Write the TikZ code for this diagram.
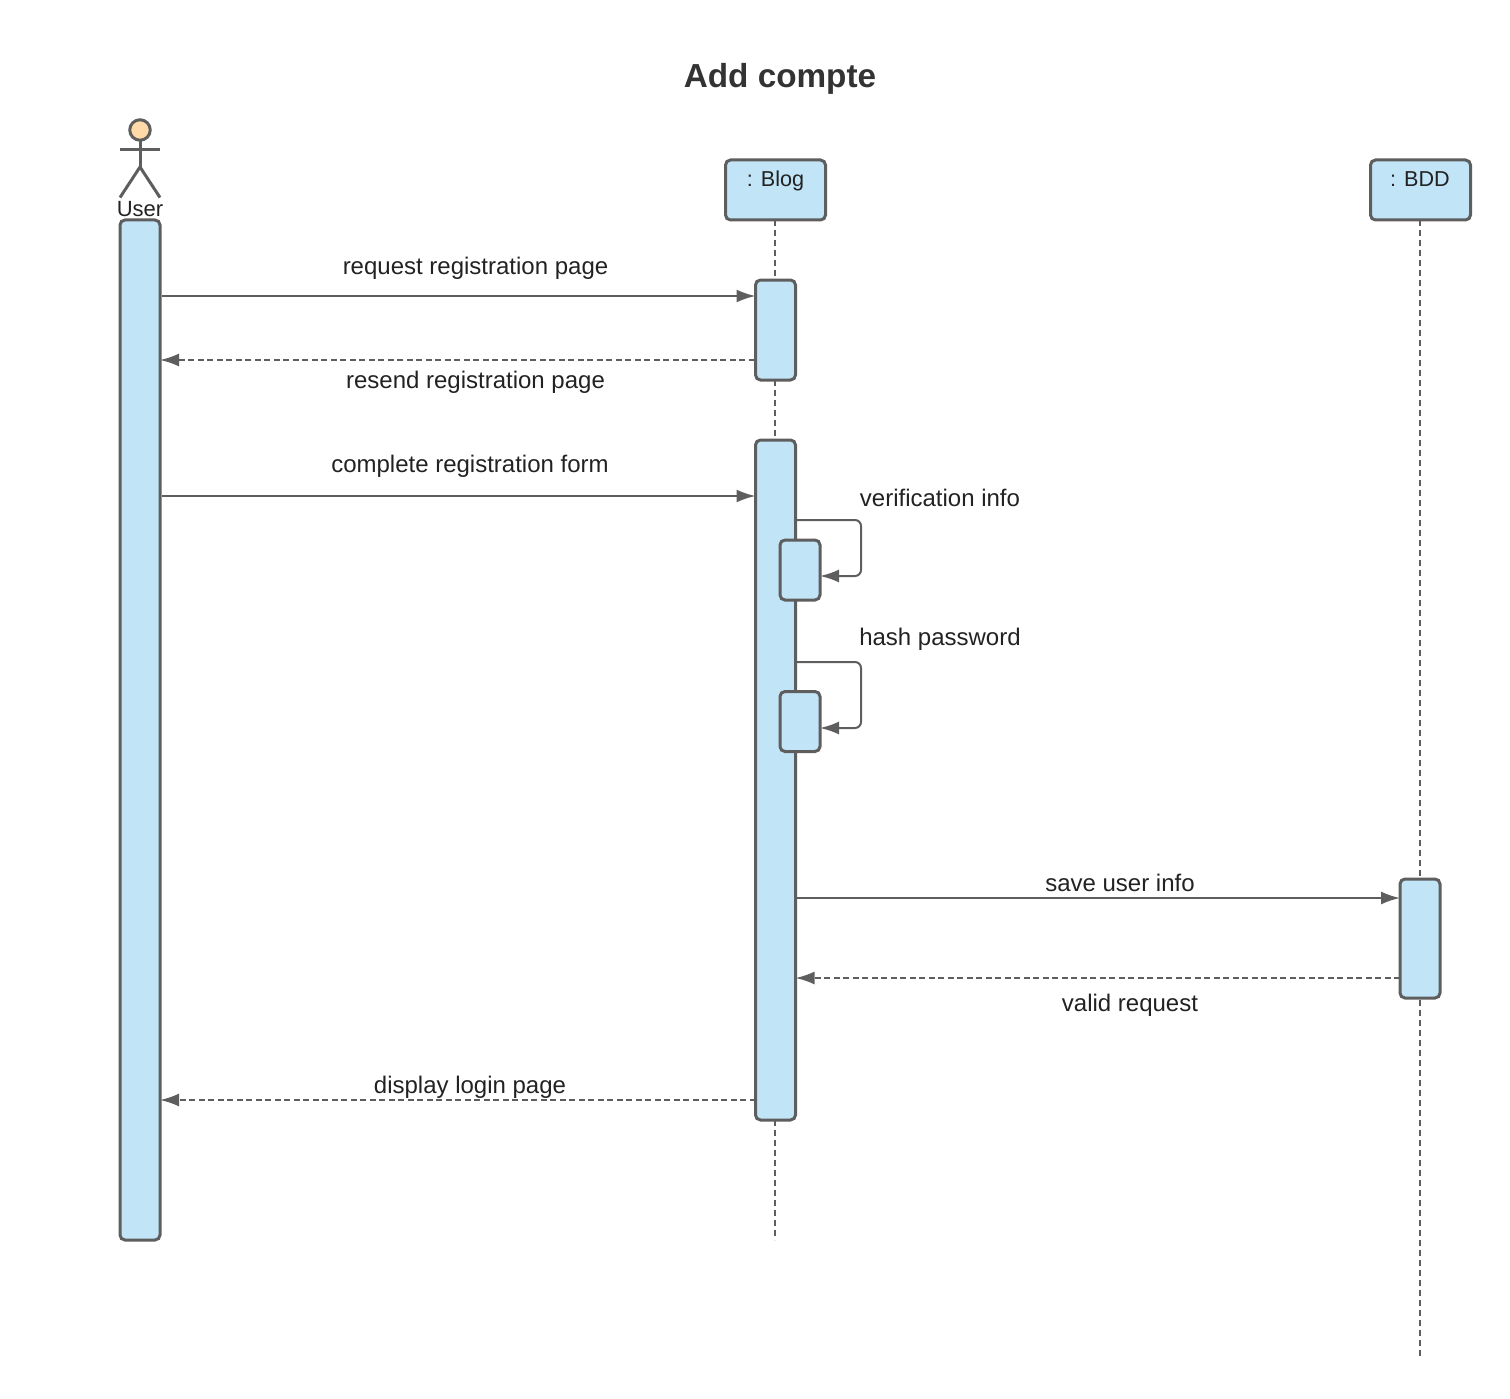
\documentclass[tikz,border=0pt]{standalone}
\usepackage{fontspec}
\setmainfont{Liberation Sans}
\usetikzlibrary{arrows.meta}
\definecolor{barfill}{HTML}{C1E4F7}
\definecolor{linegrey}{HTML}{5E5E5E}
\definecolor{headfill}{HTML}{FFD9A8}
\definecolor{txt}{HTML}{222222}
\definecolor{titletxt}{HTML}{333333}
\tikzset{
  box/.style={draw=linegrey,fill=barfill,line width=3pt,rounded corners=5pt,inner sep=0pt,outer sep=0pt,text=txt},
  wide/.style={box,minimum width=100pt,minimum height=60pt},
  activation/.style={box,minimum width=40pt},
  lifeline/.style={draw=linegrey,line width=1.6pt,dash pattern=on 6pt off 4pt},
  call/.style={draw=linegrey,line width=2pt,-{Latex[length=19pt,width=13pt]}},
  reply/.style={call,dash pattern=on 6pt off 3.5pt},
  selfcall/.style={call,rounded corners=6pt},
  msg/.style={text=txt,font=\fontsize{24}{28}\selectfont,anchor=base,inner sep=0pt},
  headtext/.style={text=txt,font=\fontsize{21.6}{26}\selectfont,anchor=base,inner sep=0pt},
  stick/.style={draw=linegrey,line width=3pt}
}
\begin{document}
\begin{tikzpicture}[x=1pt,y=-1pt]
\useasboundingbox (0,0) rectangle (1510,1399);
\node[text=titletxt,font=\bfseries\fontsize{33.3}{38}\selectfont,anchor=base,inner sep=0pt] (title) at (780,87.5) {Add compte};
% actor
\node[circle,draw=linegrey,fill=headfill,line width=3pt,minimum size=20.5pt,inner sep=0pt,outer sep=0pt] (actorhead) at (140,130) {};
\coordinate (hip) at (140,167);
\coordinate (armL) at (120,149.5);
\coordinate (armR) at (160,149.5);
\coordinate (footL) at (120,197.5);
\coordinate (footR) at (160,197.5);
\draw[stick] (actorhead.south) -- (hip);
\draw[stick] (armL) -- (armR);
\draw[stick] (footL) -- (hip) -- (footR);
\node[headtext,font=\fontsize{22}{26}\selectfont] (userlabel) at (140,216.5) {User};
% heads
\node[wide] (blog) at (775.5,190) {};
\node[headtext] (bloglabel) at (775.5,186.5) {: Blog};
\node[wide] (bdd) at (1420.5,190) {};
\node[headtext] (bddlabel) at (1420,186.5) {: BDD};
% lifeline ends
\coordinate (blogend) at (775,1240);
\coordinate (bddend) at (1420,1359);
\draw[lifeline] (blog.south -| blogend) -- (blogend);
\draw[lifeline] (bdd.south -| bddend) -- (bddend);
% bars
\node[activation,minimum height=1020pt] (userbar) at (140,730) {};
\node[activation,minimum height=100pt] (blogA) at (775.5,330) {};
\node[activation,minimum height=680pt] (blogB) at (775.5,780) {};
\node[activation,minimum height=60pt] (selfA) at (800,570) {};
\node[activation,minimum height=60pt] (selfB) at (800,721.5) {};
\node[activation,minimum height=119pt] (bddbar) at (1420,938.5) {};
% messages
\draw[call,shorten <=1.5pt] (userbar.east |- 0,296) -- (blogA.west |- 0,296);
\draw[reply,shorten <=1pt] (blogA.west |- 0,360) -- (userbar.east |- 0,360);
\draw[call,shorten <=1.5pt] (userbar.east |- 0,496) -- (blogB.west |- 0,496);
\draw[selfcall] (blogB.east |- 0,520) -| (861,576) -- (selfA.east |- 0,576);
\draw[selfcall] (blogB.east |- 0,662) -| (861,728) -- (selfB.east |- 0,728);
\draw[call,shorten <=1.5pt] (blogB.east |- 0,898) -- (bddbar.west |- 0,898);
\draw[reply] (bddbar.west |- 0,978) -- (blogB.east |- 0,978);
\draw[reply] (blogB.west |- 0,1100) -- (userbar.east |- 0,1100);
% labels
\node[msg] (m1) at (475.5,274) {request registration page};
\node[msg] (m2) at (475.5,388) {resend registration page};
\node[msg] (m3) at (470,472) {complete registration form};
\node[msg] (m4) at (940,506) {verification info};
\node[msg] (m5) at (940,645) {hash password};
\node[msg] (m6) at (1120,891) {save user info};
\node[msg] (m7) at (1130,1011) {valid request};
\node[msg] (m8) at (470,1093) {display login page};
\end{tikzpicture}
\end{document}
